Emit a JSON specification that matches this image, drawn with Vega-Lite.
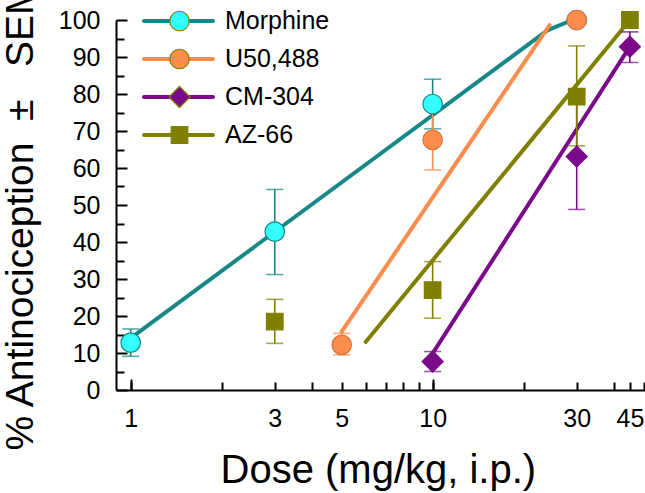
{
  "$schema": "https://vega.github.io/schema/vega-lite/v6.json",
  "width": 529,
  "height": 370,
  "autosize": {"type": "none"},
  "padding": {"left": 116, "top": 20, "right": 0, "bottom": 103},
  "background": "white",
  "config": {
    "view": {"stroke": null},
    "font": "Liberation Sans",
    "axis": {
      "grid": false,
      "domainColor": "black",
      "tickColor": "black",
      "labelColor": "black",
      "titleColor": "black",
      "domainWidth": 2,
      "tickWidth": 2,
      "labelFont": "Liberation Sans",
      "titleFont": "Liberation Sans",
      "titleFontWeight": "normal",
      "labelFontSize": 25
    },
    "legend": {
      "labelFont": "Liberation Sans",
      "labelColor": "black"
    }
  },
  "datasets": {
    "lines": [
      {"series": "Morphine", "dose": 1, "pct": 14},
      {"series": "Morphine", "dose": 24, "pct": 97.2},
      {"series": "Morphine", "dose": 29, "pct": 100},
      {"series": "U50,488", "dose": 5, "pct": 15.8},
      {"series": "U50,488", "dose": 24.4, "pct": 98.6},
      {"series": "CM-304", "dose": 10, "pct": 9.9},
      {"series": "CM-304", "dose": 44.5, "pct": 92.2},
      {"series": "AZ-66", "dose": 6, "pct": 13},
      {"series": "AZ-66", "dose": 44.5, "pct": 99.5}
    ],
    "points": [
      {"drug": "Morphine", "dose": 1, "mean": 12.8, "lo": 9.1, "hi": 16.5},
      {"drug": "Morphine", "dose": 3, "mean": 42.8, "lo": 31.2, "hi": 54.2},
      {"drug": "Morphine", "dose": 10, "mean": 77.3, "lo": 70.6, "hi": 84.0},
      {"drug": "Morphine", "dose": 30, "mean": 100, "lo": null, "hi": null},
      {"drug": "U50,488", "dose": 5, "mean": 12.2, "lo": 9.5, "hi": 15.3},
      {"drug": "U50,488", "dose": 10, "mean": 67.6, "lo": 59.5, "hi": 75.7},
      {"drug": "U50,488", "dose": 30, "mean": 100, "lo": null, "hi": null},
      {"drug": "CM-304", "dose": 10, "mean": 7.7, "lo": 5.0, "hi": 10.4},
      {"drug": "CM-304", "dose": 30, "mean": 63.1, "lo": 48.8, "hi": 77.4},
      {"drug": "CM-304", "dose": 45, "mean": 92.8, "lo": 88.5, "hi": 96.8},
      {"drug": "AZ-66", "dose": 3, "mean": 18.5, "lo": 12.6, "hi": 24.5},
      {"drug": "AZ-66", "dose": 10, "mean": 27.0, "lo": 19.4, "hi": 34.7},
      {"drug": "AZ-66", "dose": 30, "mean": 79.3, "lo": 66.0, "hi": 93.0},
      {"drug": "AZ-66", "dose": 45, "mean": 100, "lo": null, "hi": null}
    ]
  },
  "resolve": {"axis": {"x": "independent", "y": "independent"}},
  "layer": [
    {
      "data": {"name": "lines"},
      "mark": {"type": "line", "strokeWidth": 4, "strokeCap": "round"},
      "encoding": {
        "x": {
          "field": "dose", "type": "quantitative",
          "scale": {"type": "log", "domain": [0.894, 50.5], "nice": false},
          "axis": {
            "orient": "bottom",
            "values": [1, 3, 5, 10, 30, 45],
            "labelExpr": "'' + datum.value",
            "tickSize": -8,
            "labelPadding": 24,
            "labelFlush": false,
            "labelOverlap": false,
            "title": "Dose (mg/kg, i.p.)",
            "titleFontSize": 40,
            "titleAlign": "left",
            "titleBaseline": "alphabetic",
            "titleX": 104,
            "titleY": 92
          }
        },
        "y": {
          "field": "pct", "type": "quantitative",
          "scale": {"domain": [0, 100], "nice": false, "zero": false},
          "axis": {
            "orient": "left",
            "values": [0, 10, 20, 30, 40, 50, 60, 70, 80, 90, 100],
            "tickSize": -11,
            "labelPadding": 27,
            "labelFlush": false,
            "labelOverlap": false,
            "title": "% Antinociception\u00a0\u00a0±\u00a0\u00a0\u00a0SEM",
            "titleFontSize": 39,
            "titleAngle": -90,
            "titleAlign": "left",
            "titleBaseline": "alphabetic",
            "titleX": -84,
            "titleY": 430
          }
        },
        "stroke": {
          "field": "series", "type": "nominal", "sort": null,
          "scale": {"range": ["#178787", "#fb8c4c", "#7b0a8b", "#808000"]},
          "legend": {
            "orient": "none",
            "legendX": 26,
            "legendY": -18,
            "title": null,
            "symbolType": "stroke",
            "symbolSize": 4761,
            "symbolStrokeWidth": 4,
            "labelFontSize": 25,
            "labelOffset": 10,
            "clipHeight": 38,
            "rowPadding": 0,
            "padding": 0,
            "encode": {
              "symbols": {
                "update": {
                  "stroke": {"signal": "datum.value === 'Morphine' ? '#178787' : datum.value === 'U50,488' ? '#fb8c4c' : datum.value === 'CM-304' ? '#7f0000' : '#808000'"},
                  "strokeCap": {"value": "round"},
                  "strokeWidth": {"value": 4}
                }
              }
            }
          }
        }
      }
    },
    {
      "data": {"name": "points"},
      "transform": [{"filter": "isValid(datum.lo)"}],
      "mark": {"type": "errorbar", "ticks": {"size": 17, "thickness": 1.6}, "rule": {"strokeWidth": 1.6}},
      "encoding": {
        "x": {
          "field": "dose", "type": "quantitative",
          "axis": {
            "orient": "bottom",
            "values": [2, 4, 6, 7, 8, 9, 20, 40, 50],
            "tickSize": -8,
            "labels": false,
            "domain": false,
            "title": null
          }
        },
        "y": {
          "field": "lo", "type": "quantitative",
          "axis": {
            "orient": "left",
            "values": [5, 15, 25, 35, 45, 55, 65, 75, 85, 95],
            "tickSize": -8,
            "labels": false,
            "domain": false,
            "title": null
          }
        },
        "y2": {"field": "hi"},
        "color": {
          "field": "drug", "type": "nominal", "sort": null,
          "scale": {"range": ["#178787", "#fb8c4c", "#7b0a8b", "#808000"]},
          "legend": null
        }
      }
    },
    {
      "data": {"name": "points"},
      "mark": {"type": "point", "filled": true, "size": 380, "opacity": 1, "strokeWidth": 1.2},
      "encoding": {
        "x": {
          "field": "dose", "type": "quantitative",
          "axis": {
            "orient": "bottom",
            "values": [1, 10],
            "tickSize": -11,
            "labels": false,
            "domain": false,
            "title": null
          }
        },
        "y": {"field": "mean", "type": "quantitative", "axis": null},
        "fill": {
          "field": "drug", "type": "nominal",
          "scale": {"domain": ["Morphine", "U50,488", "CM-304", "AZ-66"], "range": ["#33ffff", "#fb8c4c", "#7b0a8b", "#808000"]},
          "legend": {
            "orient": "none",
            "legendX": 53,
            "legendY": -18,
            "title": null,
            "symbolSize": 380,
            "symbolStrokeWidth": 1.2,
            "labelFontSize": 10,
            "labelExpr": "''",
            "labelOffset": 4,
            "clipHeight": 38,
            "rowPadding": 0,
            "padding": 0,
            "encode": {
              "symbols": {
                "update": {
                  "stroke": {"signal": "datum.value === 'Morphine' ? '#178787' : datum.value === 'U50,488' ? '#d9793f' : 'transparent'"},
                  "strokeWidth": {"value": 1.2},
                  "opacity": {"value": 1}
                }
              }
            }
          }
        },
        "shape": {
          "field": "drug", "type": "nominal",
          "scale": {"domain": ["Morphine", "U50,488", "CM-304", "AZ-66"], "range": ["circle", "circle", "M0,-1.08L1.08,0L0,1.08L-1.08,0Z", "M-0.85,-0.85L0.85,-0.85L0.85,0.85L-0.85,0.85Z"]},
          "legend": {
            "orient": "none",
            "legendX": 53,
            "legendY": -18,
            "title": null,
            "symbolSize": 380,
            "symbolStrokeWidth": 1.2,
            "labelFontSize": 10,
            "labelExpr": "''",
            "labelOffset": 4,
            "clipHeight": 38,
            "rowPadding": 0,
            "padding": 0
          }
        },
        "stroke": {
          "condition": [
            {"test": "datum.drug === 'Morphine'", "value": "#178787"},
            {"test": "datum.drug === 'U50,488'", "value": "#d9793f"},
            {"test": "datum.drug === 'CM-304'", "value": "#7b0a8b"}
          ],
          "value": "#808000"
        }
      }
    }
  ]
}
